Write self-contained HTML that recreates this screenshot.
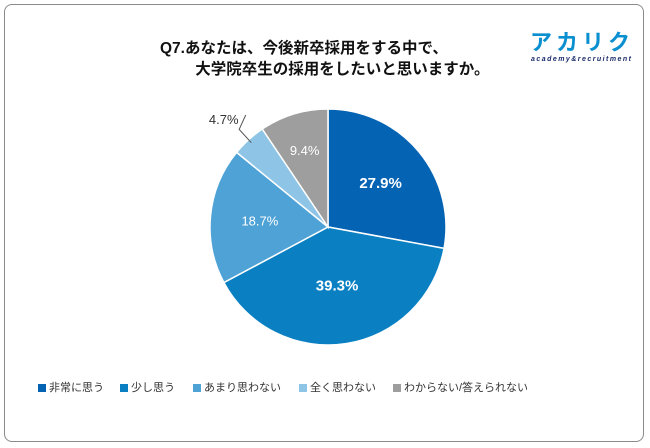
<!DOCTYPE html>
<html><head><meta charset="utf-8"><style>
html,body{margin:0;padding:0;background:#fff;}
body{width:650px;height:448px;position:relative;font-family:"Liberation Sans","Noto Sans CJK JP",sans-serif;overflow:hidden;}
.frame{position:absolute;left:4px;top:4px;width:640px;height:438px;border:1px solid #8a8a8a;border-radius:8px;box-sizing:border-box;}
.title{position:absolute;left:160px;top:38px;font-size:15.5px;font-weight:bold;color:#111;line-height:21px;white-space:nowrap;}
.logo{position:absolute;left:530px;top:30px;}
.legend{position:absolute;top:379px;left:38px;font-size:11px;color:#333;white-space:nowrap;}
.li{position:absolute;top:0;display:flex;align-items:center;}
.sw{width:8px;height:8px;margin-right:3px;margin-top:2px;}
</style></head><body>
<div class="frame"></div>
<div class="title">Q7.あなたは、今後新卒採用をする中で、<br>&emsp;&emsp;&nbsp;大学院卒生の採用をしたいと思いますか。</div>
<svg class="logo" width="108" height="34">
<text x="0" y="20" font-size="22" font-weight="bold" fill="#0a8fd0" font-family="Liberation Sans,Noto Sans CJK JP,sans-serif" textLength="100">アカリク</text>
<text x="1" y="31" font-size="7" font-weight="bold" fill="#1a2a6a" font-style="italic" textLength="100">academy&amp;recruitment</text>
</svg>
<svg id="pie" width="650" height="448" style="position:absolute;left:0;top:0"></svg>
<div class="legend">
<div class="li" style="left:0"><span class="sw" style="background:#0563b4"></span>非常に思う</div>
<div class="li" style="left:82px"><span class="sw" style="background:#0a80c3"></span>少し思う</div>
<div class="li" style="left:155px"><span class="sw" style="background:#4ea2d6"></span>あまり思わない</div>
<div class="li" style="left:261px"><span class="sw" style="background:#8ec4e6"></span>全く思わない</div>
<div class="li" style="left:355px"><span class="sw" style="background:#9e9e9e"></span>わからない/答えられない</div>
</div>
<script>
const categories=["非常に思う","少し思う","あまり思わない","全く思わない","わからない/答えられない"];
const values=[27.9,39.3,18.7,4.7,9.4];
const labels=["27.9%","39.3%","18.7%","4.7%","9.4%"];
const colors=["#0563b4","#0a80c3","#4ea2d6","#8ec4e6","#9e9e9e"];
const cx=328,cy=227,r=118;
const svg=document.getElementById('pie');
const NS="http://www.w3.org/2000/svg";
const total=values.reduce((a,b)=>a+b,0);
function pt(a,rr){return [cx+rr*Math.sin(a),cy-rr*Math.cos(a)];}
let a0=0;
values.forEach((v,i)=>{
  const a1=a0+v/total*2*Math.PI;
  const p0=pt(a0,r),p1=pt(a1,r);
  const large=(a1-a0)>Math.PI?1:0;
  const path=document.createElementNS(NS,'path');
  path.setAttribute('d',`M${cx},${cy}L${p0[0]},${p0[1]}A${r},${r} 0 ${large} 1 ${p1[0]},${p1[1]}Z`);
  path.setAttribute('fill',colors[i]);
  path.setAttribute('stroke','#fff');
  path.setAttribute('stroke-width','1.5');
  
  
  svg.appendChild(path);
  const am=(a0+a1)/2;
  const t=document.createElementNS(NS,'text');
  const small=v/total<0.07;
  let lp;
  if(small){
    lp=pt(am,r+28);
    const q0=pt(am,r-4),q1=pt(am,r+14);
    const ln=document.createElementNS(NS,'polyline');
    ln.setAttribute('points',`${q0[0]},${q0[1]} ${q1[0]},${q1[1]} ${lp[0]+16},${lp[1]-4}`);
    ln.setAttribute('fill','none');ln.setAttribute('stroke','#555');ln.setAttribute('stroke-width','1');
    
    
    svg.appendChild(ln);
    lp=[lp[0]-6,lp[1]];
  } else {
    const rr=v/total<0.12?r*0.68:(v/total>0.35?r*0.5:r*0.58);
    lp=pt(am,rr);
  }
  t.setAttribute('x',lp[0]);t.setAttribute('y',lp[1]+5);
  t.setAttribute('text-anchor','middle');
  t.setAttribute('font-size',v>25?'15':'13');
  t.setAttribute('font-weight',v>25?'bold':'normal');
  t.setAttribute('fill',small?'#333':'#fff');
  t.textContent=labels[i];
  
  
  svg.appendChild(t);
  a0=a1;
});
</script>
</body></html>
